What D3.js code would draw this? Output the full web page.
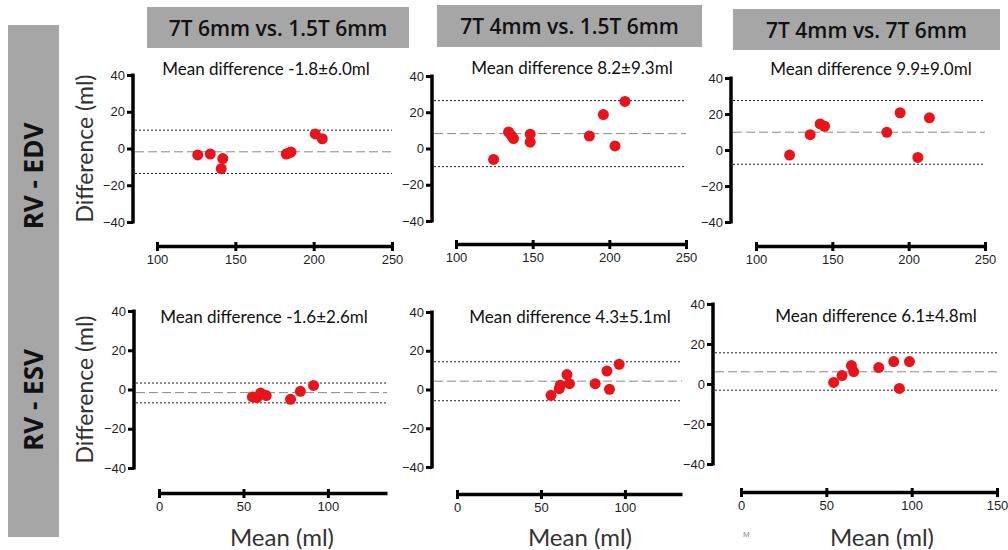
<!DOCTYPE html>
<html>
<head>
<meta charset="utf-8">
<script src="https://cdn.jsdelivr.net/npm/d3@7"></script>
<style>
  body { margin: 0; background: #fff; }
  svg { display: block; }
  .tick-lbl { font-family: "Liberation Sans", Arial, sans-serif; font-size: 13px; fill: #1e1e1e; }
  .md { font-family: Lato, "Open Sans", sans-serif; font-size: 17px; fill: #111; }
  .ytitle, .xtitle { font-family: Lato, "Open Sans", sans-serif; fill: #333; }
  .hdr { font-family: "Open Sans", sans-serif; font-weight: 600; font-size: 21px; fill: #111; }
  .rowlbl { font-family: "Open Sans", sans-serif; font-weight: 700; font-size: 26px; fill: #111; }
</style>
</head>
<body>
<div id="chart"></div>
<script>
// ---------------- DATA ----------------
const headers = ['7T 6mm vs. 1.5T 6mm', '7T 4mm vs. 1.5T 6mm', '7T 4mm vs. 7T 6mm'];
const rowLabels = ['RV - EDV', 'RV - ESV'];
const meanLabels = [
  'Mean difference -1.8±6.0ml', 'Mean difference 8.2±9.3ml', 'Mean difference 9.9±9.0ml',
  'Mean difference -1.6±2.6ml', 'Mean difference 4.3±5.1ml', 'Mean difference 6.1±4.8ml'
];

// [lower limit, mean difference, upper limit]
const limits = [
  [-13.6, -1.8, 10.0],
  [-10.0, 8.2, 26.4],
  [-7.9, 9.9, 27.5],
  [-6.8, -1.6, 3.3],
  [-5.8, 4.3, 14.3],
  [-3.1, 6.1, 15.6]
];

const edv6vs15Mean = [126, 134, 142, 141, 182.5, 184, 185.5, 201, 205.5];
const edv6vs15Diff = [-3.5, -3.0, -5.5, -11, -3, -2.5, -1.9, 7.9, 5.3];
const edv4vs15Mean = [124.5, 134.3, 136, 137.5, 148.4, 148.4, 187, 196.1, 203.7, 210.2];
const edv4vs15Diff = [-6, 9.1, 7.3, 5.5, 7.9, 3.5, 6.9, 18.7, 1.4, 26];
const edv4vs6Mean = [122, 135.5, 142, 144.9, 185.7, 194.4, 206, 213.6];
const edv4vs6Diff = [-2.8, 8.5, 14.5, 13.2, 9.8, 20.7, -4.1, 17.9];

const esv6vs15Mean = [55.3, 58, 60.2, 63.5, 77.9, 83.7, 91.5];
const esv6vs15Diff = [-3.8, -4.1, -1.8, -3.1, -5, -0.9, 2.1];
const esv4vs15Mean = [56, 60.9, 61.5, 65.5, 67, 82.3, 89.3, 90.8, 96.6];
const esv4vs15Diff = [-3, 0.4, 2.2, 7.7, 3, 3, 9.5, 0.1, 13];
const esv4vs6Mean = [54.3, 59.2, 64.7, 66, 80.7, 89.5, 98.7, 92.8];
const esv4vs6Diff = [0.8, 4.2, 9.2, 6.2, 8.2, 11.2, 11.2, -2.2];

const xDomains = [[100, 250], [100, 250], [100, 250], [0, 135], [0, 134], [0, 150]];
const xTicks = [[100, 150, 200, 250], [100, 150, 200, 250], [100, 150, 200, 250], [0, 50, 100], [0, 50, 100], [0, 50, 100, 150]];
const yTicks = [-40, -20, 0, 20, 40];

const series = [
  [edv6vs15Mean, edv6vs15Diff], [edv4vs15Mean, edv4vs15Diff], [edv4vs6Mean, edv4vs6Diff],
  [esv6vs15Mean, esv6vs15Diff], [esv4vs15Mean, esv4vs15Diff], [esv4vs6Mean, esv4vs6Diff]
];

// ---------------- LAYOUT ----------------
// yAxisX, x range, y range (40 -> -40), x axis position, centre of mean label
const panels = [
  {ax: 133, x0: 157, x1: 392, yT: 75, yB: 222, xa: 246, mx: 266, my: 75},
  {ax: 432, x0: 456, x1: 686, yT: 76, yB: 221, xa: 244, mx: 572, my: 74},
  {ax: 731, x0: 756, x1: 985, yT: 78, yB: 222, xa: 246, mx: 871, my: 75},
  {ax: 134, x0: 159, x1: 387, yT: 311, yB: 468, xa: 493, mx: 264, my: 323},
  {ax: 432, x0: 457, x1: 682, yT: 312, yB: 467, xa: 494, mx: 570, my: 323},
  {ax: 713, x0: 741, x1: 997, yT: 304, yB: 464, xa: 492, mx: 876, my: 322}
];

const width = 1008, height = 550;

const svg = d3.select('#chart').append('svg')
  .attr('width', width)
  .attr('height', height);

//================ HEADERS / ROW LABELS ================
const hdrBoxes = [[147, 7, 262, 41], [437, 5, 265, 42], [733, 9, 267, 41]];
headers.forEach((h, i) => {
  const b = hdrBoxes[i];
  svg.append('rect').attr('x', b[0]).attr('y', b[1]).attr('width', b[2]).attr('height', b[3]).attr('fill', '#a6a6a6');
  svg.append('text').attr('class', 'hdr')
    .attr('x', b[0] + b[2] / 2).attr('y', b[1] + b[3] / 2 + 8)
    .attr('text-anchor', 'middle').text(h);
});

svg.append('rect').attr('x', 8).attr('y', 25).attr('width', 51).attr('height', 512).attr('fill', '#a6a6a6');
[176, 400].forEach((cy, i) => {
  svg.append('text').attr('class', 'rowlbl')
    .attr('transform', `translate(43,${cy}) rotate(-90)`)
    .attr('text-anchor', 'middle').text(rowLabels[i]);
});

//================ PANELS ================
panels.forEach((p, i) => {
  const g = svg.append('g');
  const x = d3.scaleLinear().domain(xDomains[i]).range([p.x0, p.x1]);
  const y = d3.scaleLinear().domain([-40, 40]).range([p.yB, p.yT]);

  // limits of agreement
  limits[i].forEach((v, k) => {
    g.append('line')
      .attr('x1', p.ax + 2).attr('x2', p.x1)
      .attr('y1', y(v)).attr('y2', y(v))
      .attr('stroke', k === 1 ? '#8a8a8a' : '#222')
      .attr('stroke-width', 1)
      .attr('stroke-dasharray', k === 1 ? '9,4' : '2,2');
  });

  // y axis
  const yAxis = g.append('g')
    .attr('transform', `translate(${p.ax},0)`)
    .call(d3.axisLeft(y).tickValues(yTicks).tickSize(6).tickSizeOuter(0).tickPadding(2));
  yAxis.select('.domain').remove();
  yAxis.append('line')
    .attr('x1', 0).attr('x2', 0)
    .attr('y1', y(-40) + 1.5).attr('y2', y(40) - 1.5)
    .attr('stroke', '#000').attr('stroke-width', 3.5);
  yAxis.selectAll('.tick line').attr('stroke', '#000').attr('stroke-width', 3);
  yAxis.selectAll('.tick text').attr('class', 'tick-lbl').attr('font-size', null).attr('font-family', null);

  // x axis
  const xAxis = g.append('g')
    .attr('transform', `translate(0,${p.xa})`)
    .call(d3.axisBottom(x).tickValues(xTicks[i]).tickSize(5).tickSizeOuter(0).tickPadding(4));
  xAxis.select('.domain').attr('stroke', '#000').attr('stroke-width', 3.5);
  xAxis.selectAll('.tick line').attr('stroke', '#000').attr('stroke-width', 3).attr('y1', -4);
  xAxis.selectAll('.tick text').attr('class', 'tick-lbl').attr('font-size', null).attr('font-family', null);

  // points
  const [mx, dy] = series[i];
  g.selectAll('circle')
    .data(mx.map((m, j) => [m, dy[j]]))
    .enter()
    .append('circle')
    .attr('cx', d => x(d[0]))
    .attr('cy', d => y(d[1]))
    .attr('r', 5.5)
    .attr('fill', '#e8141b');

  // mean difference label
  g.append('text').attr('class', 'md')
    .attr('x', p.mx).attr('y', p.my)
    .attr('text-anchor', 'middle')
    .text(meanLabels[i]);

  // axis titles
  if (i % 3 === 0) {
    g.append('text').attr('class', 'ytitle')
      .attr('font-size', 23)
      .attr('transform', `translate(93,${(p.yT + p.yB) / 2}) rotate(-90)`)
      .attr('text-anchor', 'middle')
      .text('Difference (ml)');
  }
  if (i >= 3) {
    g.append('text').attr('class', 'xtitle')
      .attr('font-size', 24)
      .attr('x', [282, 580, 882][i - 3]).attr('y', 546)
      .attr('text-anchor', 'middle')
      .text('Mean (ml)');
  }
});

// little scan artefact under the last panel
svg.append('text').attr('x', 743).attr('y', 537)
  .attr('font-family', 'Liberation Sans, Arial, sans-serif').attr('font-size', 8).attr('fill', '#888')
  .text('M');
</script>
</body>
</html>
